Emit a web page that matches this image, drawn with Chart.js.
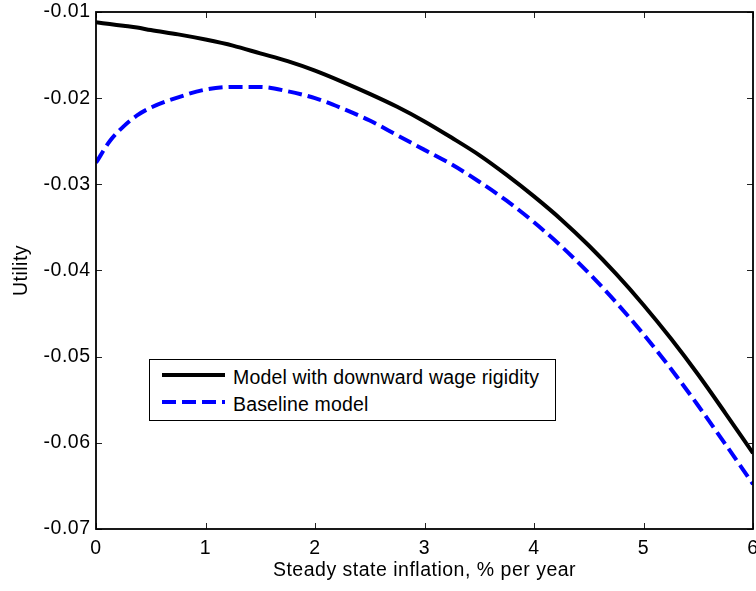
<!DOCTYPE html>
<html>
<head>
<meta charset="utf-8">
<script src="https://cdn.jsdelivr.net/npm/chart.js@4"></script>
<style>
html,body{margin:0;padding:0;background:#fff;}
#wrap{position:relative;width:756px;height:591px;overflow:hidden;}
#legendBox{position:absolute;left:149px;top:359px;width:405px;height:60px;border:1.5px solid #000;background:#fff;}
.lg-line{position:absolute;}
.lg-text{position:absolute;font-family:"Liberation Sans",Arial,sans-serif;font-size:19.5px;letter-spacing:0.15px;color:#000;white-space:nowrap;line-height:22px;height:22px;}
</style>
</head>
<body>
<div id="wrap">
  <canvas id="c" width="756" height="591"></canvas>
  <div id="legendBox"></div>
</div>
<script>
// ---- data ----
const xValues = [0, 0.125, 0.25, 0.375, 0.5, 0.75, 1, 1.25, 1.5, 1.75, 2, 2.25, 2.5, 2.75, 3, 3.25, 3.5, 3.75, 4, 4.25, 4.5, 4.75, 5, 5.25, 5.5, 5.75, 6];
const rigidityModel = [-0.0112, -0.0114, -0.0116, -0.0118, -0.0121, -0.0126, -0.0132, -0.0139, -0.0148, -0.0157, -0.0168, -0.0181, -0.0195, -0.0210, -0.0227, -0.0246, -0.0266, -0.0289, -0.0314, -0.0341, -0.0371, -0.0404, -0.0440, -0.0479, -0.0521, -0.0566, -0.0612];
const baselineModel = [-0.0275, -0.0250, -0.0233, -0.0220, -0.0211, -0.0199, -0.0190, -0.0187, -0.0187, -0.0192, -0.0200, -0.0212, -0.0226, -0.0243, -0.0260, -0.0277, -0.0297, -0.0319, -0.0344, -0.0372, -0.0403, -0.0437, -0.0474, -0.0514, -0.0557, -0.0602, -0.0648];
const seriesLabels = ['Model with downward wage rigidity', 'Baseline model'];
const xTicks = [0, 1, 2, 3, 4, 5, 6];
const yTicks = [-0.07, -0.06, -0.05, -0.04, -0.03, -0.02, -0.01];
const xTickLabels = ['0', '1', '2', '3', '4', '5', '6'];
const yTickLabels = ['-0.07', '-0.06', '-0.05', '-0.04', '-0.03', '-0.02', '-0.01'];
const xTitle = 'Steady state inflation, % per year';
const yTitle = 'Utility';

const FONT = '"Liberation Sans", Arial, sans-serif';
const FSIZE = 19.5;

const spacingPlugin = {
  id: 'spacing',
  beforeUpdate(chart) { chart.ctx.letterSpacing = '0.5px'; },
  beforeDraw(chart) { chart.ctx.letterSpacing = '0.5px'; }
};

const boxPlugin = {
  id: 'box',
  afterDatasetsDraw(chart) {
    const {ctx, chartArea: {left, right, top, bottom}, scales: {x, y}} = chart;
    ctx.save();
    ctx.lineWidth = 1;
    ctx.strokeStyle = '#222';
    const tl = 6;
    ctx.beginPath();
    x.ticks.forEach(t => {
      const px = Math.round(x.getPixelForValue(t.value)) + 0.5;
      ctx.moveTo(px, bottom); ctx.lineTo(px, bottom - tl);
      ctx.moveTo(px, top); ctx.lineTo(px, top + tl);
    });
    y.ticks.forEach(t => {
      const py = Math.round(y.getPixelForValue(t.value)) + 0.5;
      ctx.moveTo(left, py); ctx.lineTo(left + tl, py);
      ctx.moveTo(right, py); ctx.lineTo(right - tl, py);
    });
    ctx.stroke();
    ctx.lineWidth = 1.8;
    ctx.strokeStyle = '#000';
    ctx.strokeRect(left, top, right - left, bottom - top);
    ctx.restore();
  }
};

const chart = new Chart(document.getElementById('c'), {
  type: 'line',
  data: {
    datasets: [
      {
        label: seriesLabels[0],
        data: xValues.map((x, i) => ({x: x, y: rigidityModel[i]})),
        borderColor: '#000000',
        borderWidth: 4,
        pointRadius: 0,
        cubicInterpolationMode: 'monotone',
        fill: false
      },
      {
        label: seriesLabels[1],
        data: xValues.map((x, i) => ({x: x, y: baselineModel[i]})),
        borderColor: '#0000ff',
        borderWidth: 4,
        borderDash: [14, 6],
        pointRadius: 0,
        cubicInterpolationMode: 'monotone',
        fill: false
      }
    ]
  },
  options: {
    responsive: false,
    animation: false,
    devicePixelRatio: 1,
    layout: {padding: {left: 0, top: 12, right: 3, bottom: 0}},
    plugins: {legend: {display: false}, tooltip: {enabled: false}},
    scales: {
      x: {
        type: 'linear', min: 0, max: 6,
        grid: {display: false, drawTicks: false}, border: {display: false},
        afterBuildTicks: s => { s.ticks = xTicks.map(v => ({value: v})); },
        afterFit: s => { s.height = 62; s.paddingLeft = 0; s.paddingRight = 0; },
        ticks: {
          color: '#000', padding: 7.5, maxRotation: 0, autoSkip: false,
          font: {family: FONT, size: FSIZE},
          callback: (v) => xTickLabels[xTicks.indexOf(v)]
        },
        title: {display: true, text: xTitle, color: '#000', font: {family: FONT, size: FSIZE}, padding: {top: 0, bottom: 9}}
      },
      y: {
        type: 'linear', min: -0.07, max: -0.01,
        grid: {display: false, drawTicks: false}, border: {display: false},
        afterBuildTicks: s => { s.ticks = yTicks.map(v => ({value: v})); },
        afterFit: s => { s.width = 96; s.paddingTop = 0; s.paddingBottom = 0; },
        ticks: {
          color: '#000', padding: 5.5, autoSkip: false,
          font: {family: FONT, size: FSIZE},
          callback: (v) => yTickLabels[yTicks.indexOf(v)]
        },
        title: {display: true, text: yTitle, color: '#000', font: {family: FONT, size: FSIZE}, padding: {top: 10, bottom: 0}}
      }
    }
  },
  plugins: [spacingPlugin, boxPlugin]
});

// ---- legend built from the chart's datasets ----
(function buildLegend() {
  const wrap = document.getElementById('wrap');
  const lineY = [375, 402];
  const textY = [377, 404];
  chart.data.datasets.forEach((ds, i) => {
    const ns = 'http://www.w3.org/2000/svg';
    const svg = document.createElementNS(ns, 'svg');
    svg.setAttribute('class', 'lg-line');
    svg.setAttribute('width', '64');
    svg.setAttribute('height', '8');
    svg.style.left = '162px';
    svg.style.top = (lineY[i] - 4) + 'px';
    const ln = document.createElementNS(ns, 'line');
    ln.setAttribute('x1', '0'); ln.setAttribute('x2', '63');
    ln.setAttribute('y1', '4'); ln.setAttribute('y2', '4');
    ln.setAttribute('stroke', ds.borderColor);
    ln.setAttribute('stroke-width', ds.borderWidth);
    if (ds.borderDash) ln.setAttribute('stroke-dasharray', ds.borderDash.join(','));
    svg.appendChild(ln);
    wrap.appendChild(svg);
    const t = document.createElement('div');
    t.className = 'lg-text';
    t.style.left = '233px';
    t.style.top = (textY[i] - 11) + 'px';
    t.textContent = ds.label;
    wrap.appendChild(t);
  });
})();
</script>
</body>
</html>
